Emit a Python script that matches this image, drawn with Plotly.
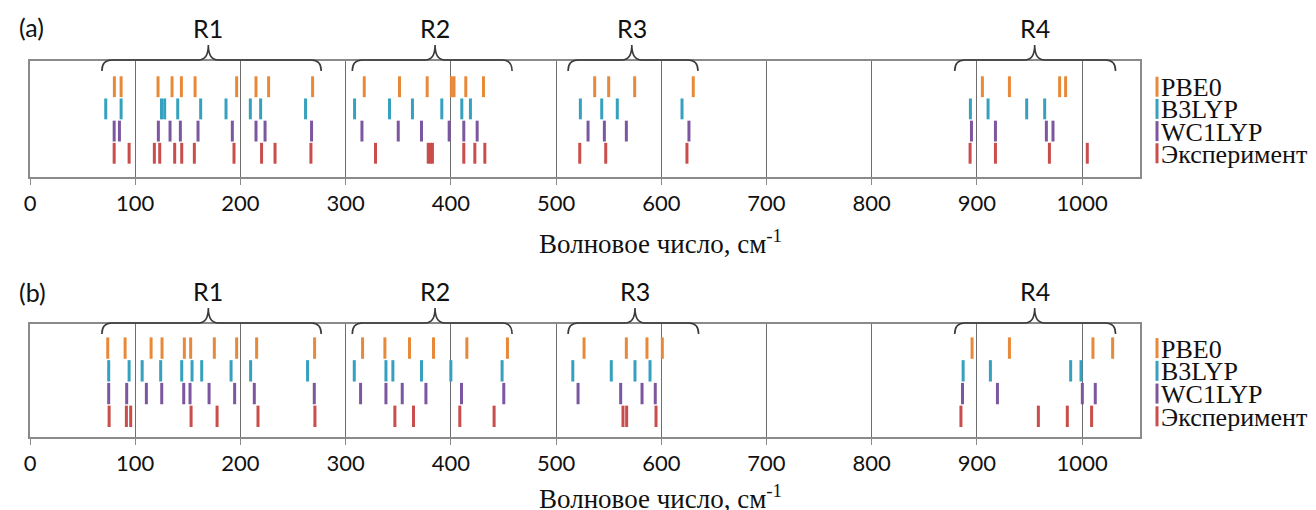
import plotly.graph_objects as go

series = ["PBE0", "B3LYP", "WC1LYP", "Эксперимент"]
colors = ["#E8893A", "#35A1BE", "#7C579F", "#C84D4B"]
row_pos = [4, 3, 2, 1]

# Panel (a) frequencies, cm-1
a_pbe0 = [80.2, 86.6, 121.7, 135.0, 143.9, 156.9, 196.4, 214.8, 226.8, 268.6,
          317.7, 351.2, 377.5, 400.5, 403.0, 414.2, 431.0,
          536.7, 550.0, 574.7, 630.4, 905.2, 930.9, 978.6, 984.3]
a_b3lyp = [72.0, 86.6, 125.0, 128.0, 140.4, 162.2, 186.3, 209.4, 219.2, 261.9,
           308.5, 341.7, 363.5, 391.4, 410.4, 418.6,
           523.1, 543.4, 558.2, 619.7, 893.8, 910.6, 947.3, 964.4]
a_wc1lyp = [80.0, 85.0, 122.0, 133.1, 142.9, 159.7, 192.3, 214.8, 223.4, 267.6,
            315.5, 350.0, 372.1, 398.4, 412.3, 425.0,
            530.4, 545.9, 566.8, 626.3, 894.8, 917.6, 966.0, 972.3]
a_exp = [80.0, 94.2, 118.2, 123.3, 137.5, 144.2, 156.2, 193.9, 220.1, 232.9, 267.0,
         328.4, 378.5, 380.5, 382.5, 412.3, 422.8, 432.3,
         522.5, 547.2, 624.4, 893.5, 917.6, 968.9, 1004.9]

# Panel (b) frequencies, cm-1
b_pbe0 = [73.9, 90.4, 115.1, 125.5, 146.7, 152.7, 175.2, 196.4, 215.4, 270.5,
          316.1, 337.3, 360.7, 383.5, 415.2, 453.8,
          526.6, 566.8, 586.4, 601.0, 895.4, 930.9, 1010.3, 1029.0]
b_b3lyp = [74.8, 94.2, 106.6, 124.2, 144.2, 154.0, 163.2, 191.1, 209.7, 263.8,
           308.2, 338.3, 344.9, 372.1, 400.0, 448.7,
           515.9, 552.5, 575.0, 589.3, 886.9, 912.8, 989.1, 998.9]
b_wc1lyp = [74.8, 91.9, 110.6, 125.2, 146.1, 152.1, 170.2, 194.5, 213.2, 270.2,
            314.2, 338.3, 353.8, 376.3, 410.1, 450.3,
            520.9, 561.4, 581.7, 594.3, 886.3, 919.5, 1000.2, 1012.5]
b_exp = [75.2, 91.6, 95.7, 153.1, 177.8, 216.7, 270.8,
         346.8, 364.5, 408.5, 441.1,
         563.6, 567.1, 595.0, 884.8, 958.4, 985.9, 1009.0]

# Region braces
region_labels = ["R1", "R2", "R3", "R4"]
a_region_start = [68.3, 306.3, 511.4, 878.9]
a_region_end = [276.8, 458.2, 634.9, 1031.8]
a_region_tip = [169.5, 385.0, 572.0, 954.9]
b_region_start = [68.3, 306.3, 511.4, 878.9]
b_region_end = [276.8, 458.2, 635.5, 1031.8]
b_region_tip = [169.5, 385.0, 575.0, 954.9]

tick_vals = list(range(0, 1001, 100))
x_title = "Волновое число, см<sup>-1</sup>"

# ---------------- layout geometry ----------------
# page body has an 8px default margin: work in page pixels and convert
OFF = 8
PAGE_W, PAGE_H = 1316, 510
W, H = PAGE_W - OFF, PAGE_H - OFF
PLOT_L, PLOT_R = 29.5, 1140          # page px of the plot area
ML = int(round(PLOT_L - OFF))
MR = W - (PLOT_R - OFF)
PW = W - ML - MR


def py(px):
    return 1 - (px - OFF) / H


def pxx(px):
    return (px - OFF - ML) / PW


panels = [
    dict(name="(a)", data=[a_pbe0, a_b3lyp, a_wc1lyp, a_exp], top=61, bottom=177,
         yr=[-0.07, 5.16], rs=a_region_start, re=a_region_end, rt=a_region_tip,
         xa="x", ya="y", xaxis="xaxis", yaxis="yaxis", label_y=27, title_y=242),
    dict(name="(b)", data=[b_pbe0, b_b3lyp, b_wc1lyp, b_exp], top=324, bottom=437,
         yr=[0.09, 5.06], rs=b_region_start, re=b_region_end, rt=b_region_tip,
         xa="x2", ya="y2", xaxis="xaxis2", yaxis="yaxis2", label_y=292, title_y=497),
]

fig = go.Figure()
shapes = []
annotations = []
HALF = 0.47
TXT = "#111111"

for p in panels:
    for s_name, vals, col, rp in zip(series, p["data"], colors, row_pos):
        xs, ys = [], []
        for v in vals:
            xs += [v, v, None]
            ys += [rp - HALF, rp + HALF, None]
        fig.add_trace(go.Scatter(x=xs, y=ys, mode="lines", xaxis=p["xa"], yaxis=p["ya"],
                                 line=dict(color=col, width=3), showlegend=False,
                                 hoverinfo="skip", name=s_name))

    axis_line = "#8a8a8a"
    fig.layout[p["xaxis"]] = dict(
        domain=[0, 1], range=[0, 1055], anchor=p["ya"],
        tickvals=tick_vals, ticks="outside", ticklen=6, tickwidth=1.3, tickcolor=axis_line,
        showline=True, linecolor=axis_line, linewidth=1.5, mirror=True,
        showgrid=True, gridcolor="#6e6e6e", gridwidth=1.3, zeroline=False,
        tickfont=dict(family="Lato", size=22, color=TXT),
    )
    fig.layout[p["yaxis"]] = dict(
        domain=[py(p["bottom"]), py(p["top"])], range=p["yr"], anchor=p["xa"],
        showticklabels=False, ticks="", showgrid=False, zeroline=False,
        showline=True, linecolor=axis_line, linewidth=1.5, mirror=True,
    )

    # panel label
    annotations.append(dict(text=p["name"], xref="paper", yref="paper", x=pxx(17), y=py(p["label_y"]),
                            xanchor="left", yanchor="middle", showarrow=False,
                            font=dict(family="Lato", size=25, color=TXT)))
    # axis title
    annotations.append(dict(text=x_title, xref="paper", yref="paper", x=pxx(660), y=py(p["title_y"]),
                            xanchor="center", yanchor="middle", showarrow=False,
                            font=dict(family="Liberation Serif", size=27, color=TXT)))

    # braces
    top = p["top"]
    yH, yE, yT = py(top - 1), py(top + 10), py(top - 16)
    r = 10 / 1.053
    for lab, x0, x1, xt in zip(region_labels, p["rs"], p["re"], p["rt"]):
        path = (f"M {x0},{yE} Q {x0},{yH} {x0 + r},{yH} L {xt - r},{yH} "
                f"Q {xt},{yH} {xt},{yT} Q {xt},{yH} {xt + r},{yH} "
                f"L {x1 - r},{yH} Q {x1},{yH} {x1},{yE}")
        shapes.append(dict(type="path", xref=p["xa"], yref="paper", path=path,
                           line=dict(color="#3a3a3a", width=1.6)))
        annotations.append(dict(text=lab, xref=p["xa"], yref="paper", x=xt, y=py(top - 33),
                                xanchor="center", yanchor="middle", showarrow=False,
                                font=dict(family="Lato", size=25, color=TXT)))

    # legend (one per panel, aligned with the rows)
    row_h = (p["bottom"] - p["top"]) / (p["yr"][1] - p["yr"][0])
    for s_name, col, rp in zip(series, colors, row_pos):
        yc = p["bottom"] - (rp - p["yr"][0]) * row_h
        shapes.append(dict(type="line", xref="paper", yref="paper",
                           x0=pxx(1157), x1=pxx(1157), y0=py(yc - 10), y1=py(yc + 10),
                           line=dict(color=col, width=3)))
        annotations.append(dict(text=s_name, xref="paper", yref="paper", x=pxx(1159), y=py(yc + 1),
                                xanchor="left", yanchor="middle", showarrow=False,
                                font=dict(family="Liberation Serif", size=26, color=TXT)))

fig.update_layout(
    width=W, height=H,
    margin=dict(l=ML, r=MR, t=0, b=0, autoexpand=False),
    paper_bgcolor="white", plot_bgcolor="white",
    shapes=shapes, annotations=annotations, showlegend=False,
)

fig.write_html("out.html")
